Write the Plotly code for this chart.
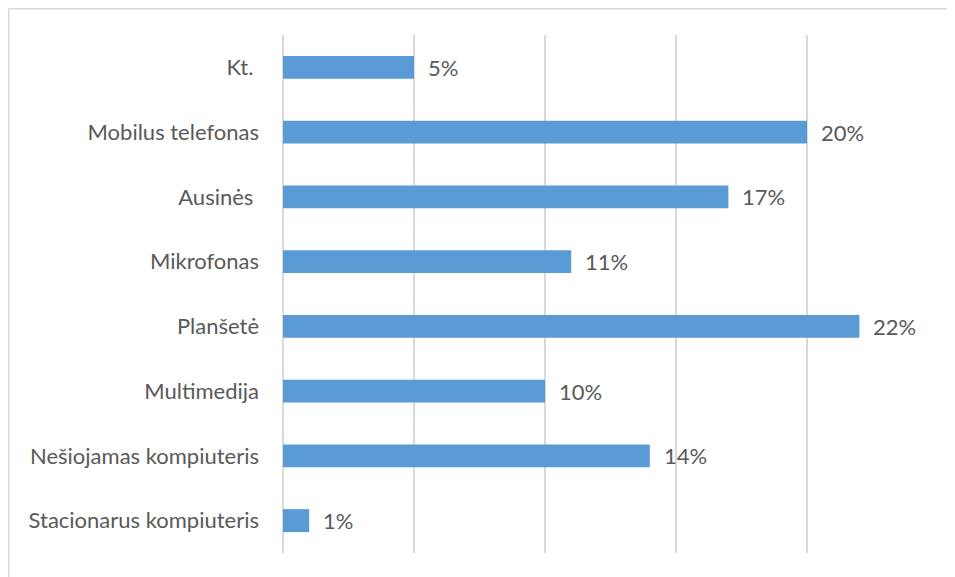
import plotly.graph_objects as go

categories = ["Stacionarus kompiuteris", "Nešiojamas kompiuteris", "Multimedija",
              "Planšetė", "Mikrofonas", "Ausinės\u00a0", "Mobilus telefonas", "Kt.\u00a0"]
values = [1, 14, 10, 22, 11, 17, 20, 5]
value_labels = ["1%", "14%", "10%", "22%", "11%", "17%", "20%", "5%"]
x_ticks = [0, 5, 10, 15, 20, 25]

FONT = "Lato"
TXT = "#595959"
GRID = "#d9d9d9"
FS = 22

W, H = 947, 569
ML, MR, MT, MB = 275, 17, 27, 24
PW, PH = W - ML - MR, H - MT - MB

fig = go.Figure()
fig.add_trace(go.Bar(
    x=values, y=categories, orientation="h",
    marker=dict(color="#5B9BD5", line=dict(width=0)),
    width=0.355, hoverinfo="skip",
))

for c, v, t in zip(categories, values, value_labels):
    fig.add_annotation(x=v, y=c, text=t, showarrow=False, xanchor="left",
                       xshift=12, font=dict(family=FONT, size=FS, color=TXT))

# chart border (left and top visible edges)
bx = -(ML - 0.75) / PW
by = 1 + (MT - 0.75) / PH
fig.add_shape(type="line", xref="paper", yref="paper", x0=bx, x1=1.2,
              y0=by, y1=by, line=dict(color=GRID, width=1.5))
fig.add_shape(type="line", xref="paper", yref="paper", x0=bx, x1=bx,
              y0=by, y1=-0.2, line=dict(color=GRID, width=1.5))

fig.update_layout(
    width=W, height=H,
    margin=dict(l=ML, r=MR, t=MT, b=MB),
    paper_bgcolor="white", plot_bgcolor="white",
    showlegend=False,
    font=dict(family=FONT, size=FS, color=TXT),
    xaxis=dict(range=[0, 25], tickvals=x_ticks, showticklabels=False,
               showgrid=True, gridcolor=GRID, gridwidth=1.5,
               zeroline=True, zerolinecolor=GRID, zerolinewidth=1.5,
               showline=False, fixedrange=True),
    yaxis=dict(showgrid=False, zeroline=False, showline=False,
               ticks="", ticklabelstandoff=23,
               tickfont=dict(family=FONT, size=FS, color=TXT), fixedrange=True),
)

fig.write_html("out.html")
